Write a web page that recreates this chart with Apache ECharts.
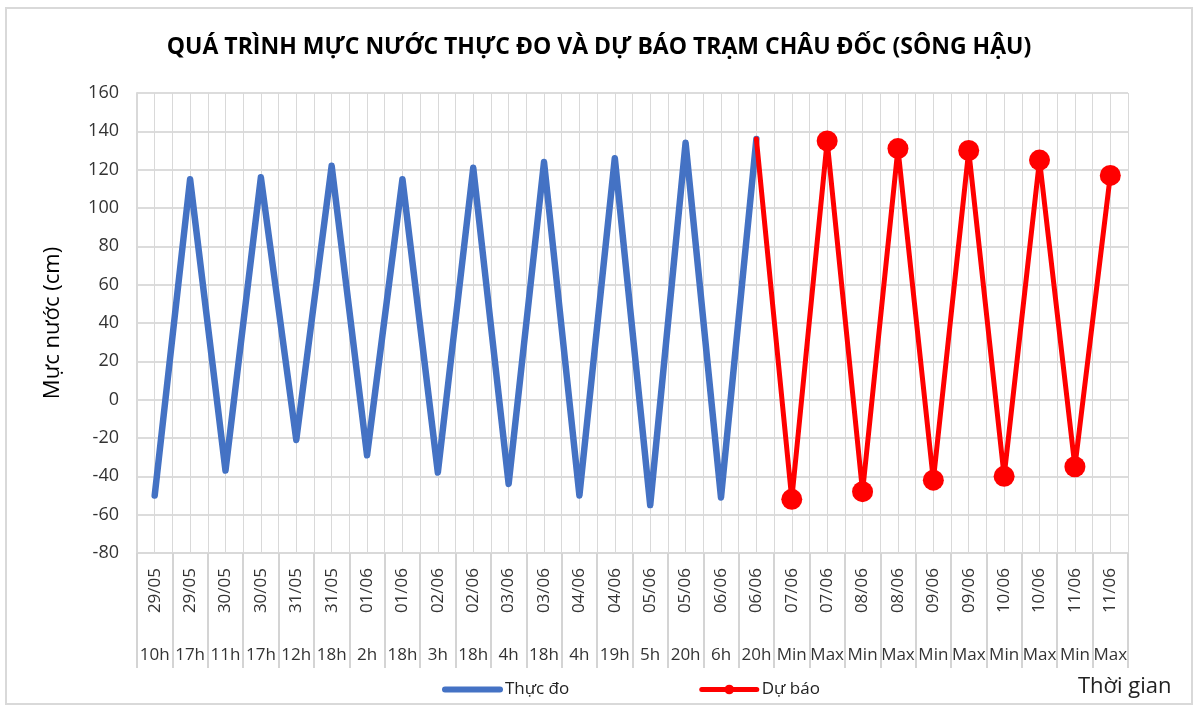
<!DOCTYPE html>
<html>
<head>
    <meta charset="utf-8">
    <title>Mực nước Châu Đốc</title>
    <script src="https://cdn.jsdelivr.net/npm/echarts@6.0.0/dist/echarts.min.js"></script>
    <style>
        body { margin: 0; padding: 0; background: #fff; }
        #chart { width: 1198px; height: 707px; }
    </style>
</head>
<body>
    <div id="chart"></div>
    <script>
        // ngày / giờ trên trục hoành
        const dates = ['29/05', '29/05', '30/05', '30/05', '31/05', '31/05', '01/06', '01/06', '02/06', '02/06',
            '03/06', '03/06', '04/06', '04/06', '05/06', '05/06', '06/06', '06/06',
            '07/06', '07/06', '08/06', '08/06', '09/06', '09/06', '10/06', '10/06', '11/06', '11/06'];
        const hours = ['10h', '17h', '11h', '17h', '12h', '18h', '2h', '18h', '3h', '18h',
            '4h', '18h', '4h', '19h', '5h', '20h', '6h', '20h',
            'Min', 'Max', 'Min', 'Max', 'Min', 'Max', 'Min', 'Max', 'Min', 'Max'];
        // mực nước thực đo (cm)
        const observed = [-50, 115, -37, 116, -21, 122, -29, 115, -38, 121, -44, 124, -50, 126, -55, 134, -51, 136];
        // mực nước dự báo (cm), 07/06 -> 11/06
        const forecast = [-52, 135, -48, 131, -42, 130, -40, 125, -35, 117];

        const font = "'Open Sans', sans-serif";
        const forecastData = dates.map((d, i) => {
            if (i < observed.length - 1) return null;
            if (i === observed.length - 1) return { value: observed[i], symbol: 'none' };
            return forecast[i - observed.length];
        });

        const chart = echarts.init(document.getElementById('chart'));
        const option = {
            animation: false,
            title: {
                text: 'QUÁ TRÌNH MỰC NƯỚC THỰC ĐO VÀ DỰ BÁO TRẠM CHÂU ĐỐC (SÔNG HẬU)',
                left: 'center',
                top: 31,
                textStyle: { fontFamily: font, fontSize: 23, fontWeight: 'bold', color: '#000' }
            },
            grid: { left: 137, right: 70, top: 93, bottom: 154 },
            legend: {
                left: 437,
                top: 676,
                itemWidth: 55,
                itemHeight: 12,
                itemGap: 130,
                textStyle: { fontFamily: font, fontSize: 17, color: '#222' },
                data: [
                    { name: 'Thực đo', itemStyle: { opacity: 0 }, lineStyle: { width: 6, cap: 'round' } },
                    { name: 'Dự báo', lineStyle: { width: 5 } }
                ]
            },
            xAxis: [
                {
                    type: 'category',
                    data: dates,
                    position: 'bottom',
                    boundaryGap: true,
                    axisLine: { onZero: false, lineStyle: { color: '#d9d9d9', width: 2 } },
                    axisTick: { show: true, inside: false, interval: 0, length: 115, lineStyle: { color: '#d4d4d4', width: 2 } },
                    axisLabel: { interval: 0, rotate: 90, margin: 15, fontFamily: font, fontSize: 17, color: '#333' },
                    splitLine: { show: false }
                },
                {
                    type: 'category',
                    data: hours,
                    position: 'bottom',
                    boundaryGap: true,
                    axisLine: { show: false, onZero: false },
                    axisTick: { show: false },
                    axisLabel: { interval: 0, margin: 94, fontFamily: font, fontSize: 17, color: '#333' },
                    splitLine: { show: false }
                },
                {
                    // đường lưới dọc mỗi nửa ô
                    type: 'category',
                    data: dates.concat(dates).map(() => ''),
                    position: 'bottom',
                    boundaryGap: true,
                    axisLine: { show: false, onZero: false },
                    axisTick: { show: false },
                    axisLabel: { show: false },
                    splitLine: { show: true, interval: 0, lineStyle: { color: '#d9d9d9', width: 1 } }
                }
            ],
            yAxis: {
                type: 'value',
                min: -80,
                max: 160,
                interval: 20,
                name: 'Mực nước (cm)',
                nameLocation: 'middle',
                nameGap: 73,
                nameTextStyle: { fontFamily: font, fontSize: 22, color: '#000' },
                axisLine: { show: true, lineStyle: { color: '#d9d9d9', width: 2 } },
                axisTick: { show: false },
                axisLabel: { margin: 18, fontFamily: font, fontSize: 18, color: '#333' },
                splitLine: { lineStyle: { color: '#d0d0d0', width: 1.5 } }
            },
            series: [
                {
                    name: 'Thực đo',
                    type: 'line',
                    data: observed,
                    symbol: 'none',
                    lineStyle: { color: '#4472c4', width: 6.5, join: 'round', cap: 'round' },
                    itemStyle: { color: '#4472c4' },
                    z: 2
                },
                {
                    name: 'Dự báo',
                    type: 'line',
                    data: forecastData,
                    symbol: 'circle',
                    symbolSize: 21,
                    lineStyle: { color: '#ff0000', width: 5, join: 'round', cap: 'round' },
                    itemStyle: { color: '#ff0000' },
                    z: 3
                }
            ],
            graphic: [
                {
                    type: 'rect',
                    shape: { x: 6, y: 8, width: 1186, height: 696 },
                    style: { fill: 'none', stroke: '#d9d9d9', lineWidth: 2 },
                    silent: true
                },
                {
                    type: 'text',
                    left: 1078,
                    top: 676,
                    style: { text: 'Thời gian', fontFamily: font, fontSize: 22, fill: '#222' }
                }
            ]
        };
        chart.setOption(option);
    </script>
</body>
</html>
